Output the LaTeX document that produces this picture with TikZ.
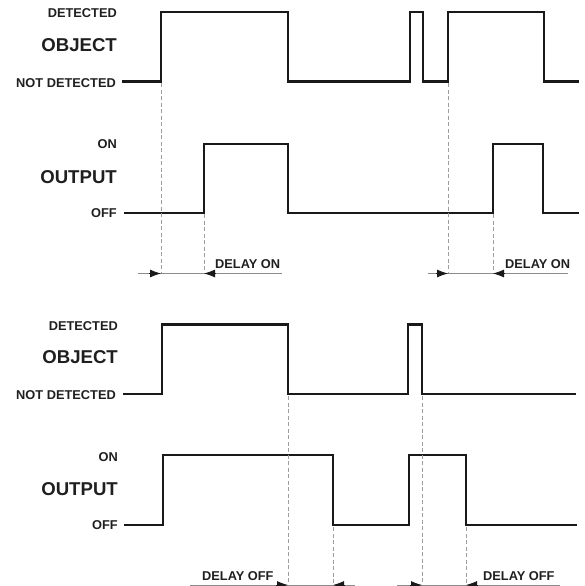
\documentclass[tikz,border=0pt]{standalone}
\usepackage{fontspec}
\setmainfont{Liberation Sans}
\usetikzlibrary{arrows.meta}
\begin{document}
\begin{tikzpicture}[x=1pt,y=-1pt,
  sig/.style={line width=2.4pt, draw=black!90, line join=miter, line cap=butt},
  guide/.style={draw=black!38, line width=0.7pt, dash pattern=on 4pt off 2.5pt},
  dim/.style={draw=black!45, line width=0.8pt},
  darr/.style={-{Latex[length=11pt,width=8pt]}, line width=0.8pt, draw=black!90, fill=black!90},
  small/.style={font=\bfseries\fontsize{12.8}{14}\selectfont, anchor=east, inner sep=0pt, text=black!88},
  big/.style={font=\bfseries\fontsize{18.6}{20}\selectfont, anchor=east, inner sep=0pt, text=black!88},
  dlabel/.style={font=\bfseries\fontsize{12.8}{14}\selectfont, anchor=west, inner sep=0pt, text=black!88},
]
\useasboundingbox (0,0) rectangle (584,586);

% ---------------- TOP: DELAY ON ----------------
\node[small] (det1) at (117,12.8) {DETECTED};
\node[big]   (obj1) at (117,45) {OBJECT};
\node[small] (nd1)  at (116,83) {NOT DETECTED};
\node[small] (on1)  at (117,144.5) {ON};
\node[big]   (out1) at (117,177) {OUTPUT};
\node[small] (off1) at (117,212.7) {OFF};

% object signal
\draw[sig] (122,81.5) -- (161,81.5) -- (161,12) -- (288,12) -- (288,81.5) -- (410,81.5)
  -- (410,12) -- (423,12) -- (423,81.5) -- (448,81.5) -- (448,12) -- (544,12) -- (544,81.5) -- (579,81.5);
% output signal
\draw[sig] (124,213) -- (204,213) -- (204,144) -- (288,144) -- (288,213) -- (493,213)
  -- (493,144) -- (543,144) -- (543,213) -- (579,213);

% guides
\draw[guide] (161,83) -- (161,273.5);
\draw[guide] (204,214) -- (204,273.5);
\draw[guide] (448,83) -- (448,273.5);
\draw[guide] (493,214) -- (493,273.5);

% dimension lines
\coordinate (a1s) at (138,273.5);
\coordinate (a1e) at (282,273.5);
\coordinate (t1a) at (161,273.5);
\coordinate (t1b) at (204,273.5);
\draw[dim] (a1s) -- (a1e);
\draw[darr] ([xshift=-12pt]t1a) -- (t1a);
\draw[darr] ([xshift=12pt]t1b) -- (t1b);
\node[dlabel] (don1) at (215,264) {DELAY ON};

\coordinate (a2s) at (428,273.5);
\coordinate (a2e) at (568,273.5);
\coordinate (t2a) at (448,273.5);
\coordinate (t2b) at (493,273.5);
\draw[dim] (a2s) -- (a2e);
\draw[darr] ([xshift=-12pt]t2a) -- (t2a);
\draw[darr] ([xshift=12pt]t2b) -- (t2b);
\node[dlabel] (don2) at (505,264) {DELAY ON};

% ---------------- BOTTOM: DELAY OFF ----------------
\node[small] (det2) at (118,325.7) {DETECTED};
\node[big]   (obj2) at (118,357.5) {OBJECT};
\node[small] (nd2)  at (116,395) {NOT DETECTED};
\node[small] (on2)  at (118,457) {ON};
\node[big]   (out2) at (118,489.5) {OUTPUT};
\node[small] (off2) at (118,525) {OFF};

% object signal
\draw[sig] (123,394) -- (162,394) -- (162,324.5) -- (288,324.5) -- (288,394) -- (408,394)
  -- (408,324.5) -- (422,324.5) -- (422,394) -- (576,394);
% output signal
\draw[sig] (124,525) -- (163,525) -- (163,455) -- (333,455) -- (333,525) -- (409,525)
  -- (409,455) -- (466,455) -- (466,525) -- (577,525);

% guides
\draw[guide] (288,396) -- (288,586);
\draw[guide] (333,527) -- (333,586);
\draw[guide] (422,396) -- (422,586);
\draw[guide] (466,527) -- (466,586);

% dimension lines
\coordinate (b1s) at (190,585);
\coordinate (b1e) at (355,585);
\coordinate (u1a) at (288,585);
\coordinate (u1b) at (333,585);
\draw[dim] (b1s) -- (b1e);
\draw[darr] ([xshift=-12pt]u1a) -- (u1a);
\draw[darr] ([xshift=12pt]u1b) -- (u1b);
\node[dlabel] (doff1) at (202,576) {DELAY OFF};

\coordinate (b2s) at (397,585);
\coordinate (b2e) at (560,585);
\coordinate (u2a) at (422,585);
\coordinate (u2b) at (466,585);
\draw[dim] (b2s) -- (b2e);
\draw[darr] ([xshift=-12pt]u2a) -- (u2a);
\draw[darr] ([xshift=12pt]u2b) -- (u2b);
\node[dlabel] (doff2) at (483,576) {DELAY OFF};
\end{tikzpicture}
\end{document}
